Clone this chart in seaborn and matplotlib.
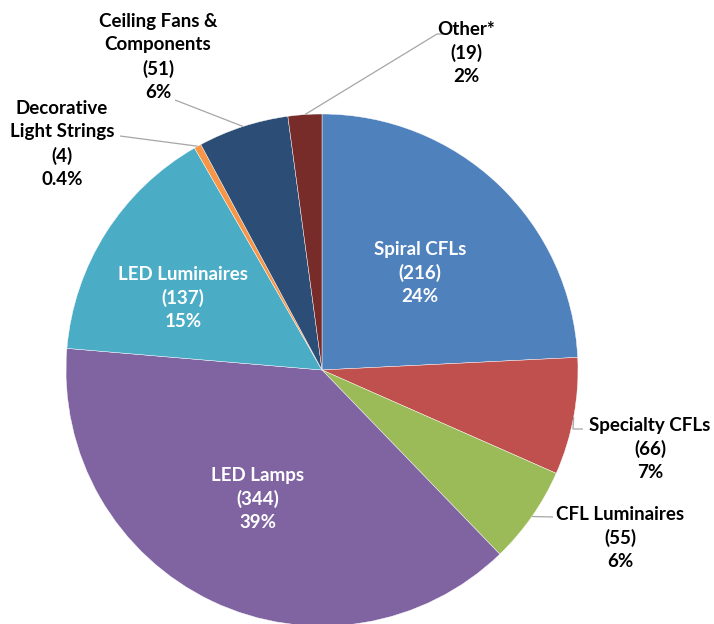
import matplotlib
matplotlib.use("Agg")
import matplotlib.pyplot as plt
import seaborn as sns
import numpy as np

# ---- data ----
categories = ["Spiral CFLs", "Specialty CFLs", "CFL Luminaires", "LED Lamps",
              "LED Luminaires", "Decorative\nLight Strings", "Ceiling Fans &\nComponents", "Other*"]
counts = [216, 66, 55, 344, 137, 4, 51, 19]
colors = ["#4F81BD", "#C0504D", "#9BBB59", "#8064A2", "#4BACC6", "#F79646", "#2C4D75", "#772C2A"]

# ---- layout (pixels) ----
W, H = 714, 624
CX, CY, R = 322, 370, 256

sns.set_theme(style="white")
plt.rcParams['font.family'] = ['Lato', 'DejaVu Sans']

fig = plt.figure(figsize=(W / 100, H / 100), dpi=100)
ax = fig.add_axes([(CX - R) / W, (H - CY - R) / H, 2 * R / W, 2 * R / H])

wedges, _ = ax.pie(counts, colors=colors, startangle=90, counterclock=False,
                   radius=1, wedgeprops=dict(linewidth=0.3, edgecolor="white"))
ax.set_xlim(-1, 1)
ax.set_ylim(-1, 1)
ax.axis("off")


def px(x, y):
    return ((x - CX) / R, (CY - y) / R)


total = sum(counts)
# label centre positions (pixels), text colour, leader path (pixel points after wedge edge)
label_pos = [(420, 273), (650, 449), (620, 538), (258, 499), (183, 298), (62, 144), (158, 57), (466, 53)]
text_cols = ["white", "black", "black", "white", "white", "black", "black", "black"]
leaders = [None, [(573, 429), (583, 429)], [(553, 517)], None, None, [(120, 136)], [(175, 100)],
           [(437, 34), (443, 34)]]

for i, (name, v) in enumerate(zip(categories, counts)):
    pct = v / total * 100
    ptxt = f"{pct:.1f}%" if pct < 1 else f"{pct:.0f}%"
    txt = f"{name}\n({v})\n{ptxt}"
    x, y = px(*label_pos[i])
    ax.text(x, y, txt, ha="center", va="center", fontsize=13.5, fontweight="bold",
            color=text_cols[i], linespacing=1.42, clip_on=False)
    if leaders[i] is not None:
        w = wedges[i]
        mid = np.deg2rad((w.theta1 + w.theta2) / 2)
        pts = [(np.cos(mid), np.sin(mid))] + [px(*p) for p in leaders[i]]
        xs, ys = zip(*pts)
        ax.plot(xs, ys, color="#A6A6A6", lw=0.9, clip_on=False, solid_capstyle="butt")

fig.savefig("out.png", dpi=100, facecolor="white")
